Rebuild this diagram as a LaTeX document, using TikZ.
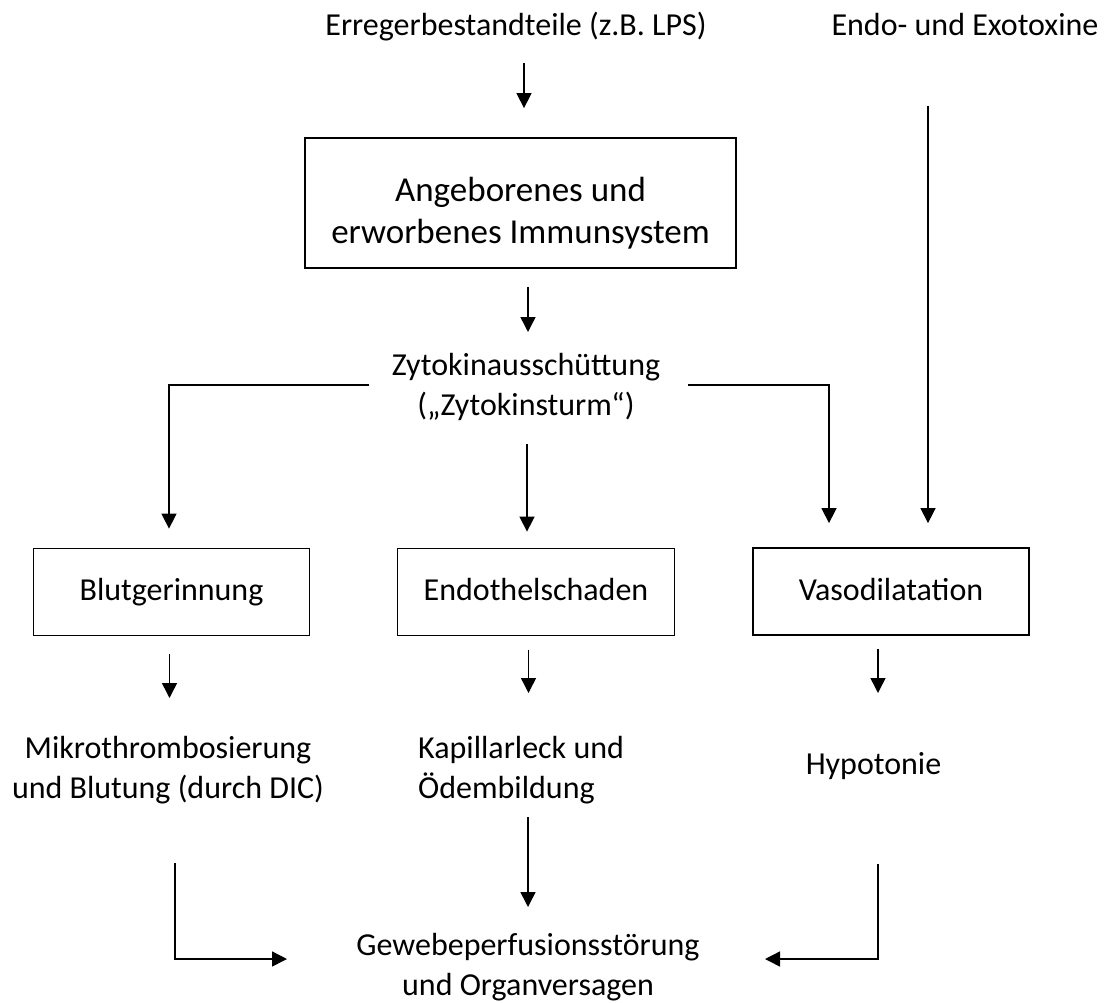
\documentclass[tikz,border=0pt]{standalone}
\usepackage{fontspec}
\setmainfont{Carlito}
\usetikzlibrary{arrows.meta}
\newcommand\kasten[4]{\node(#1)[box,minimum width=#3pt] at (#2){#4};}

\begin{document}
\begin{tikzpicture}[x=1pt,y=-1pt,
    txt/.style={inner sep=0pt,align=center,font=\fontsize{32}{40}\selectfont},
    box/.style={draw,line width=1.8pt,inner sep=0pt,minimum height=87pt,
        text height=24pt,text depth=7pt,font=\fontsize{32}{40}\selectfont},
    arr/.style={-{Triangle[width=15pt,length=15pt]},line width=1.5pt}]
    \useasboundingbox (0,0) rectangle (1110,1003);
    % oben
    \node(erreger)[txt,anchor=base] at (516,36){Erregerbestandteile (z.B. LPS)};
    \node(toxine)[txt,anchor=base] at (965,36){Endo- und Exotoxine};
    \node(immun)[draw,line width=1.8pt,inner sep=0pt,minimum width=431pt,minimum height=130pt,
        align=center,text height=86pt,text depth=6pt,font=\fontsize{35}{42}\selectfont]
        at (520.5,203){Angeborenes und\\erworbenes Immunsystem};
    \node(zyto)[txt,anchor=base] at (526,415){Zytokinausschüttung\\(„Zytokinsturm“)};
    % mitte
    \kasten{blut}{171.5,592}{276}{Blutgerinnung}
    \kasten{endo}{536,592}{277}{Endothelschaden}
    \kasten{vaso}{891,591.5}{276}{Vasodilatation}
    % unten
    \node(mikro)[txt,anchor=base] at (168,798){Mikrothrombosierung\\und Blutung (durch DIC)};
    \node(kapi)[txt,align=left,anchor=base west] at (418,798){Kapillarleck und\\Ödembildung};
    \node(hypo)[txt,anchor=base] at (873.5,774){Hypotonie};
    \node(gewebe)[txt,anchor=base] at (528,995){Gewebeperfusionsstörung\\und Organversagen};

    \draw[arr] ([xshift=8pt,yshift=-27pt]erreger.base) -- ([xshift=3.5pt,yshift=29pt]immun.north);
    \draw[arr] ([xshift=7.5pt,yshift=-18pt]immun.south) -- ([xshift=2pt,yshift=83pt]zyto.base);
    \draw[arr] ([xshift=-157pt,yshift=30pt]zyto.base) -| ([xshift=-2.5pt,yshift=19pt]blut.north);
    \draw[arr] ([xshift=1pt,yshift=-29pt]zyto.base) -- ([xshift=-9pt,yshift=16pt]endo.north);
    \draw[arr] ([xshift=162pt,yshift=30pt]zyto.base) -| ([xshift=-62pt,yshift=24pt]vaso.north);
    \draw[arr] ([xshift=-37pt,yshift=-70pt]toxine.base) -- ([xshift=37pt,yshift=24pt]vaso.north);
    \draw[arr] ([xshift=-2pt,yshift=-18pt]blut.south) -- ([xshift=1.5pt,yshift=100pt]mikro.base);
    \draw[arr] ([xshift=-7.5pt,yshift=-13.5pt]endo.south) -- ([xshift=110.5pt,yshift=105pt]kapi.base west);
    \draw[arr] ([xshift=-13pt,yshift=-13.5pt]vaso.south) -- ([xshift=4.5pt,yshift=81pt]hypo.base);
    \draw[arr] ([xshift=110pt,yshift=-19pt]kapi.base west) -- ([yshift=88pt]gewebe.base);
    \draw[arr] ([xshift=7pt,yshift=-65pt]mikro.base) |- ([xshift=-241pt,yshift=36pt]gewebe.base);
    \draw[arr] ([xshift=4.5pt,yshift=-90pt]hypo.base) |- ([xshift=237pt,yshift=36pt]gewebe.base);
\end{tikzpicture}
\end{document}
